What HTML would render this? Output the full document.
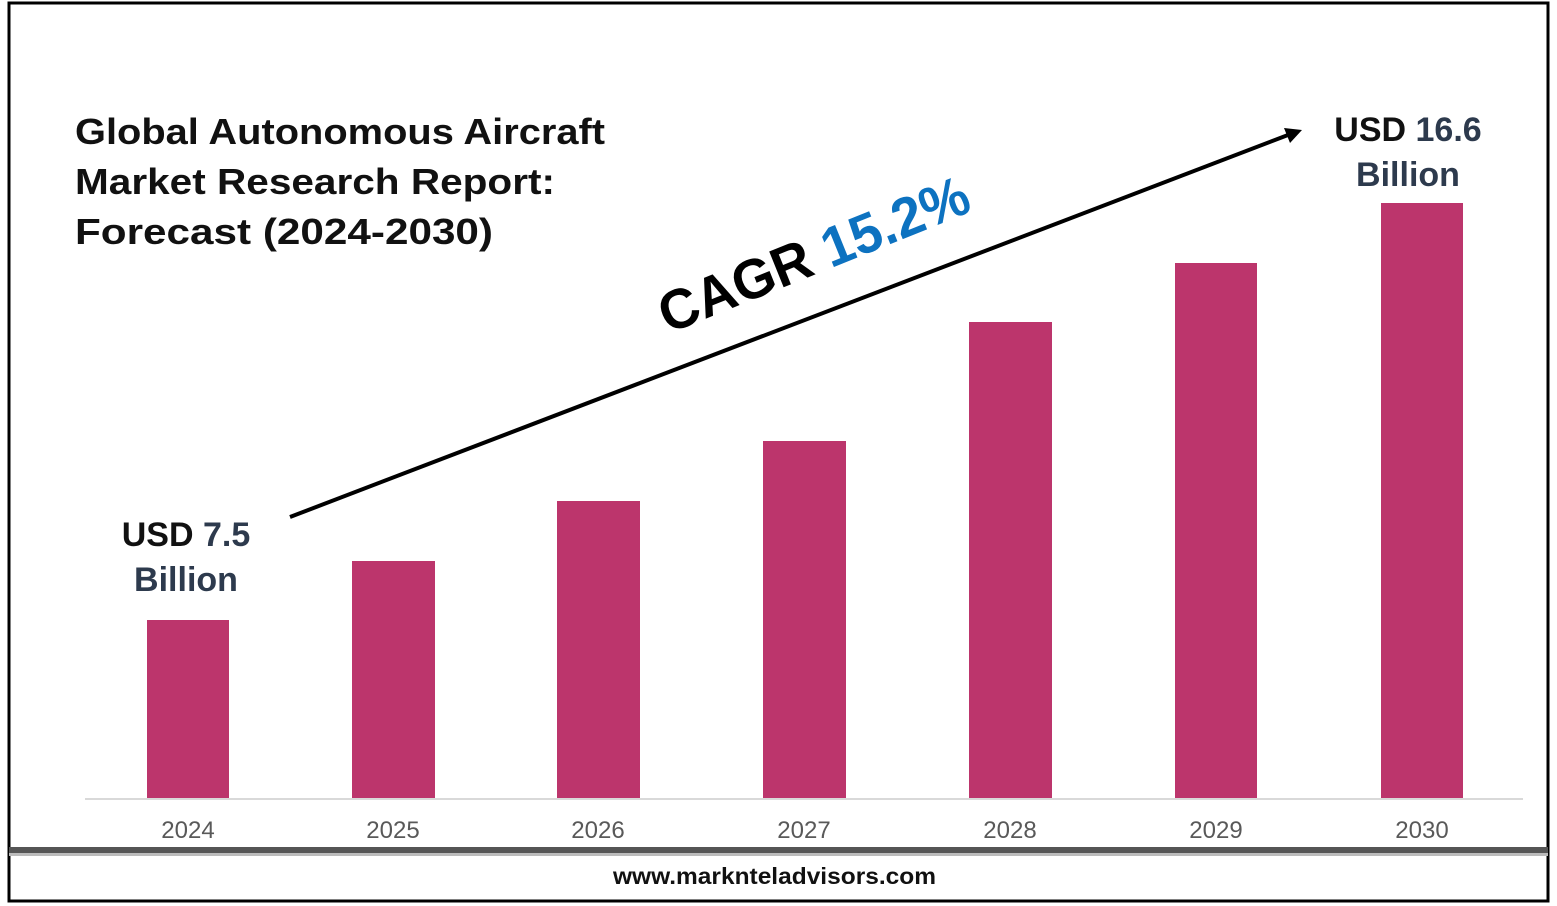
<!DOCTYPE html>
<html><head><style>body{margin:0;background:#fff}svg{display:block}</style></head><body>
<svg width="1557" height="906" xmlns="http://www.w3.org/2000/svg" font-family="Liberation Sans, sans-serif">
<rect x="0" y="0" width="1557" height="906" fill="#fff"/>
<rect x="9" y="3" width="1539" height="898" fill="none" stroke="#000" stroke-width="3"/>
<rect x="9" y="847" width="1539" height="6" fill="#555"/>
<rect x="9" y="853" width="1539" height="3" fill="#bbb"/>
<line x1="85" y1="799" x2="1523" y2="799" stroke="#d9d9d9" stroke-width="2"/>
<g fill="#bc356c">
<rect x="147" y="620" width="82" height="178"/>
<rect x="352" y="561" width="83" height="237"/>
<rect x="557" y="501" width="83" height="297"/>
<rect x="763" y="441" width="83" height="357"/>
<rect x="969" y="322" width="83" height="476"/>
<rect x="1175" y="263" width="82" height="535"/>
<rect x="1381" y="203" width="82" height="595"/>
</g>
<g fill="#595959" font-size="24" text-anchor="middle">
<text x="188" y="838">2024</text><text x="393" y="838">2025</text><text x="598" y="838">2026</text>
<text x="804" y="838">2027</text><text x="1010" y="838">2028</text><text x="1216" y="838">2029</text><text x="1422" y="838">2030</text>
</g>
<g font-size="36" font-weight="bold" fill="#111">
<text x="75" y="144" textLength="530" lengthAdjust="spacingAndGlyphs">Global Autonomous Aircraft</text>
<text x="75" y="194" textLength="480" lengthAdjust="spacingAndGlyphs">Market Research Report:</text>
<text x="75" y="244" textLength="418" lengthAdjust="spacingAndGlyphs">Forecast (2024-2030)</text>
</g>
<line x1="290" y1="517" x2="1288" y2="135" stroke="#000" stroke-width="4"/>
<polygon points="1302,130 1284,128 1290,143" fill="#000"/>
<text x="668" y="334" font-size="56" font-weight="bold" transform="rotate(-22 668 334)" textLength="330" lengthAdjust="spacingAndGlyphs"><tspan fill="#000">CAGR </tspan><tspan fill="#0d72c0">15.2%</tspan></text>
<g font-size="34" font-weight="bold" text-anchor="middle" fill="#2d3a4d">
<text x="186" y="546"><tspan fill="#111">USD</tspan> 7.5</text>
<text x="186" y="591">Billion</text>
<text x="1408" y="141"><tspan fill="#111">USD</tspan> 16.6</text>
<text x="1408" y="186">Billion</text>
</g>
<text x="613" y="884" font-size="23" font-weight="bold" fill="#111" textLength="323" lengthAdjust="spacingAndGlyphs">www.marknteladvisors.com</text>
</svg>
</body></html>
